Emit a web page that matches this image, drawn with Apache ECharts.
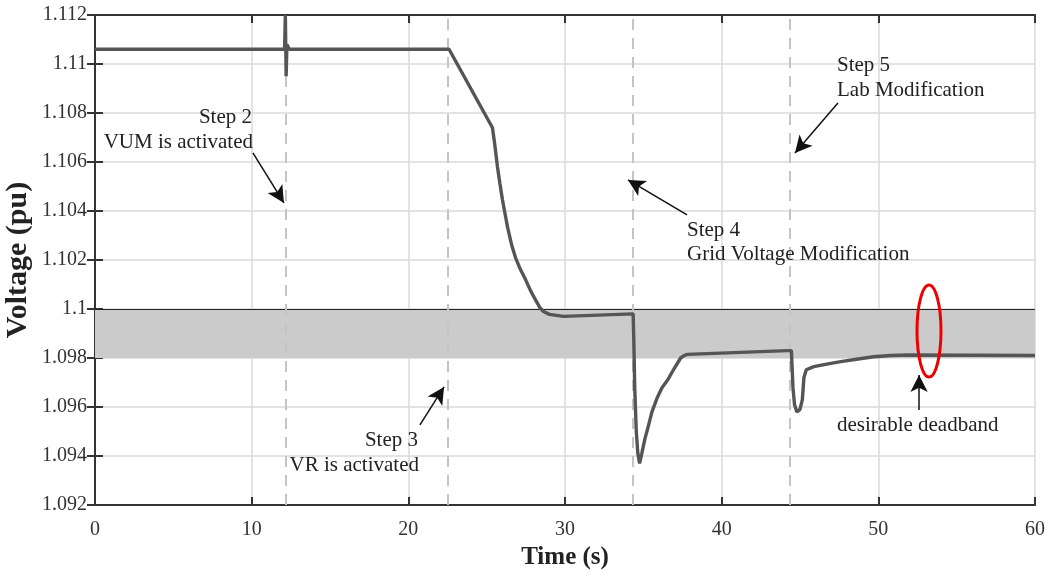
<!DOCTYPE html>
<html>
<head>
<meta charset="utf-8">
<style>
  html, body { margin: 0; padding: 0; background: #fff; }
  #main { width: 1051px; height: 577px; }
</style>
<script src="https://cdn.jsdelivr.net/npm/echarts@6/dist/echarts.min.js"></script>
</head>
<body>
<div id="main"></div>
<script>
var time = [0, 12.1, 12.15, 12.2, 12.25, 12.4, 22.6,
  25.37, 25.5, 25.69, 25.85, 26.01, 26.17, 26.33, 26.6, 26.84, 27.15, 27.48, 27.8, 28.12, 28.4, 28.63, 29.0, 29.9,
  34.35, 34.4, 34.45, 34.55, 34.65, 34.76, 34.9, 35.1, 35.27, 35.55, 35.9, 36.2, 36.55, 36.95, 37.38, 37.6, 37.8,
  44.2, 44.45, 44.55, 44.65, 44.8, 45.0, 45.15, 45.25, 45.4, 45.88, 46.7, 47.6, 48.6, 49.7, 50.8, 51.9, 60];
var voltage = [1.1106, 1.1106, 1.112, 1.1095, 1.1108, 1.1106, 1.1106,
  1.1074, 1.1068, 1.1058, 1.1051, 1.10445, 1.1039, 1.10335, 1.1026, 1.1021, 1.10162, 1.1012, 1.10075, 1.10037, 1.10005, 1.0999, 1.09978, 1.0997,
  1.0998, 1.0985, 1.0968, 1.095, 1.0941, 1.0937, 1.0941, 1.0947, 1.0951, 1.0958, 1.0964, 1.0968, 1.0971, 1.09755, 1.098, 1.0981, 1.09815,
  1.0983, 1.0983, 1.0968, 1.0961, 1.0958, 1.0959, 1.0963, 1.0972, 1.09752, 1.09765, 1.09775, 1.09785, 1.09795, 1.09805, 1.0981, 1.09812, 1.0981];
// step instants (dashed markers)
var stepTimes = [12.2, 22.5, 34.3, 44.35];
// deadband limits
var bandLow = 1.098;
var bandHigh = 1.1;
// annotation arrows: [fromT, fromV, toT, toV]
var arrows = [
  [10.08, 1.10637, 12.06, 1.10433],
  [20.74, 1.09527, 22.28, 1.09682],
  [37.79, 1.10384, 34.02, 1.10527],
  [47.42, 1.10841, 44.68, 1.10637],
  [52.6, 1.09588, 52.6, 1.09731]
];

var myChart = echarts.init(document.getElementById('main'));

var serif = '"Liberation Serif", "DejaVu Serif", serif';
var axisColor = '#333';
var gridColor = '#dadada';

var lineData = time.map(function (t, i) { return [t, voltage[i]]; });

function note(text, x, y, align) {
  return {
    type: 'text',
    z: 100,
    style: { text: text, x: x, y: y, align: align, verticalAlign: 'middle', font: '21px ' + serif, fill: '#222' }
  };
}

myChart.setOption({
  animation: false,
  grid: { left: 95, right: 16, top: 15, bottom: 72, outerBoundsMode: 'none', containLabel: false },
  xAxis: [
    {
      type: 'value',
      min: 0,
      max: 60,
      interval: 10,
      name: 'Time (s)',
      nameLocation: 'middle',
      nameGap: 39,
      nameTextStyle: { fontFamily: serif, fontSize: 25, fontWeight: 'bold', color: '#222' },
      axisLine: { lineStyle: { color: axisColor, width: 2 } },
      axisTick: { inside: true, length: 8, lineStyle: { color: axisColor, width: 2 } },
      axisLabel: { fontFamily: serif, fontSize: 20, color: '#333', margin: 15 },
      splitLine: { show: true, lineStyle: { color: gridColor, width: 1.5 } }
    },
    {
      type: 'value',
      position: 'top',
      min: 0,
      max: 60,
      interval: 10,
      axisLine: { lineStyle: { color: axisColor, width: 2 } },
      axisTick: { inside: true, length: 8, lineStyle: { color: axisColor, width: 2 } },
      axisLabel: { show: false },
      splitLine: { show: false }
    }
  ],
  yAxis: [
    {
      type: 'value',
      min: 1.092,
      max: 1.112,
      interval: 0.002,
      name: 'Voltage (pu)',
      nameLocation: 'middle',
      nameGap: 62,
      nameMoveOverlap: false,
      nameTextStyle: { fontFamily: serif, fontSize: 30, fontWeight: 'bold', color: '#222' },
      axisLine: { show: true, lineStyle: { color: axisColor, width: 2 } },
      axisTick: { show: true, inside: true, length: 8, lineStyle: { color: axisColor, width: 2 } },
      axisLabel: {
        fontFamily: serif, fontSize: 20, color: '#333', margin: 8,
        formatter: function (v) { return String(+v.toFixed(3)); }
      },
      splitLine: { show: true, lineStyle: { color: gridColor, width: 1.5 } }
    },
    {
      type: 'value',
      position: 'right',
      min: 1.092,
      max: 1.112,
      interval: 0.002,
      axisLine: { show: true, lineStyle: { color: axisColor, width: 2 } },
      axisTick: { show: true, inside: true, length: 8, lineStyle: { color: axisColor, width: 2 } },
      axisLabel: { show: false },
      splitLine: { show: false }
    }
  ],
  series: [
    {
      // deadband shading with its two border lines
      type: 'line',
      data: [],
      silent: true,
      markArea: {
        silent: true,
        itemStyle: { color: '#cbcbcb' },
        data: [[{ yAxis: bandLow }, { yAxis: bandHigh }]]
      },
      markLine: {
        silent: true,
        symbol: 'none',
        label: { show: false },
        lineStyle: { color: '#222', width: 1.2, type: 'solid' },
        data: [{ yAxis: bandLow }, { yAxis: bandHigh }]
      },
      z: 1
    },
    {
      // dashed step markers
      type: 'line',
      data: [],
      silent: true,
      markLine: {
        silent: true,
        symbol: 'none',
        label: { show: false },
        lineStyle: { color: '#c4c4c4', width: 2, type: [11, 8] },
        data: stepTimes.map(function (t) { return { xAxis: t }; })
      },
      z: 2
    },
    {
      name: 'Voltage',
      type: 'line',
      data: lineData,
      showSymbol: false,
      lineStyle: { color: '#555', width: 3.4 },
      z: 5
    },
    {
      // annotation arrows
      type: 'line',
      data: [],
      silent: true,
      markLine: {
        silent: true,
        symbol: ['none', 'arrow'],
        symbolSize: [13, 17],
        label: { show: false },
        lineStyle: { color: '#111', width: 1.5, type: 'solid' },
        itemStyle: { color: '#111' },
        data: arrows.map(function (a) {
          return [{ coord: [a[0], a[1]] }, { coord: [a[2], a[3]] }];
        })
      },
      z: 6
    }
  ],
  graphic: [
    note('Step 2', 252, 117, 'right'),
    note('VUM is activated', 253, 142, 'right'),
    note('Step 3', 418, 440, 'right'),
    note('VR is activated', 419, 465, 'right'),
    note('Step 4', 687, 230, 'left'),
    note('Grid Voltage Modification', 687, 254, 'left'),
    note('Step 5', 837, 65, 'left'),
    note('Lab Modification', 837, 90, 'left'),
    note('desirable deadband', 837, 425, 'left'),
    {
      type: 'ellipse',
      z: 100,
      shape: { cx: 929, cy: 331, rx: 12, ry: 46 },
      style: { fill: 'none', stroke: '#ee0000', lineWidth: 3 }
    }
  ]
});
</script>
</body>
</html>
